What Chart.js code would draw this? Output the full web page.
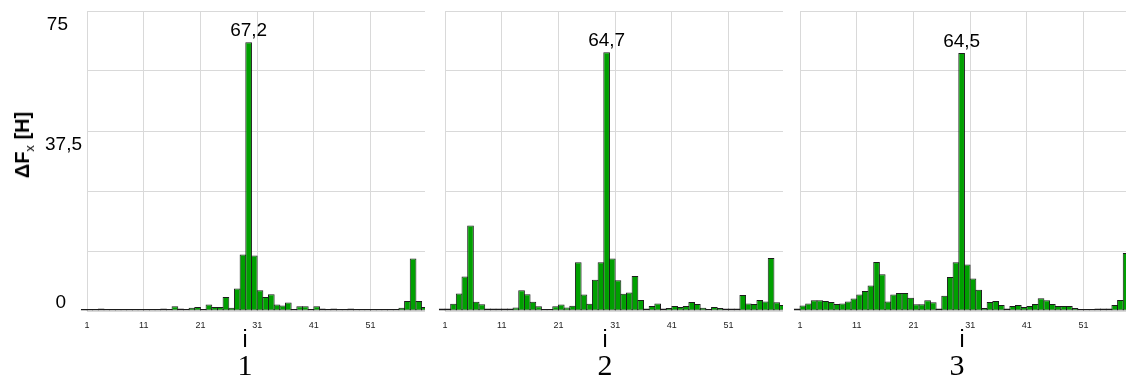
<!DOCTYPE html>
<html>
<head>
<meta charset="utf-8">
<script src="https://cdn.jsdelivr.net/npm/chart.js@4.4.0/dist/chart.umd.min.js"></script>
<style>
body{margin:0;background:#fff;}
#wrap{position:relative;width:1126px;height:381px;overflow:hidden;background:#fff;font-family:"Liberation Sans",Arial,sans-serif;color:#000;}
#wrap canvas{position:absolute;top:0;}
.ilab{position:absolute;top:328px;width:60px;text-align:center;font-size:23px;line-height:23px;}
.num{position:absolute;top:350px;width:60px;text-align:center;font-family:"Liberation Serif","Times New Roman",serif;font-size:30px;line-height:30px;}
#ytitle{position:absolute;left:24px;top:145px;transform:translate(-50%,-50%) rotate(-90deg);font-size:20px;font-weight:bold;white-space:nowrap;}
#ytitle sub{font-size:13px;font-weight:normal;}
</style>
</head>
<body>
<div id="wrap">
	<canvas id="c1" width="440" height="381" style="left:0px"></canvas>
	<canvas id="c2" width="370" height="381" style="left:430px"></canvas>
	<canvas id="c3" width="370" height="381" style="left:785px"></canvas>
	<div id="ytitle">ΔF<sub>x</sub> [H]</div>
	<div class="ilab" style="left:215px">i</div>
	<div class="ilab" style="left:575px">i</div>
	<div class="ilab" style="left:932px">i</div>
	<div class="num" style="left:215px">1</div>
	<div class="num" style="left:575px">2</div>
	<div class="num" style="left:927px">3</div>
</div>
<script>
// номера гармоник i, подписи оси
const xTicks = [1, 11, 21, 31, 41, 51];
const yLabels = [75, 37.5, 0];

// ΔFx по гармоникам, три варианта
const values1 = [0.5, 0.1, 0.2, 0.6, 0.2, 0.2, 0.2, 0.1, 0.3, 0.5,
	0.2, 0.5, 0.3, 0.3, 0.6, 0.5, 1.2, 0.6, 0.2, 0.8,
	1.0, 0.3, 1.6, 1.0, 1.0, 3.5, 0.8, 5.6, 14.1, 67.2,
	13.9, 5.2, 3.5, 4.2, 1.6, 1.4, 2.1, 0.2, 1.2, 1.2,
	0.1, 1.2, 0.6, 0.2, 0.6, 0.3, 0.3, 0.6, 0.2, 0.3,
	0.3, 0.2, 0.3, 0.3, 0.3, 0.3, 0.8, 2.5, 13.1, 2.5, 1.0];
const values2 = [0.6, 0.6, 1.8, 4.4, 8.6, 21.4, 2.3, 1.7, 0.6, 0.6,
	0.6, 0.6, 0.6, 0.9, 5.2, 4.2, 2.3, 1.2, 0.1, 0.2,
	1.2, 1.6, 0.9, 1.3, 12.2, 4.1, 1.8, 7.8, 12.2, 64.7,
	13.1, 7.7, 4.3, 4.6, 8.75, 2.75, 0.6, 1.25, 1.9, 0.6,
	0.75, 1.25, 1.0, 1.25, 2.25, 1.75, 0.8, 0.3, 1.0, 0.75,
	0.6, 0.6, 0.6, 4.0, 1.9, 1.75, 2.75, 2.4, 13.25, 2.2, 1.5];
const values3 = [0.6, 1.4, 1.9, 2.7, 2.7, 2.5, 2.25, 1.75, 1.9, 2.4,
	3.1, 4.1, 5.0, 6.4, 12.25, 9.2, 2.4, 4.1, 4.5, 4.5,
	3.3, 1.7, 1.7, 2.7, 2.2, 0.6, 3.8, 8.5, 12.2, 64.5,
	11.6, 8.1, 5.3, 0.75, 2.25, 2.5, 1.5, 0.6, 1.25, 1.5,
	1.0, 1.25, 1.75, 3.2, 2.7, 1.75, 1.25, 1.25, 1.25, 0.75,
	0.4, 0.25, 0.25, 0.6, 0.6, 0.6, 1.5, 2.75, 14.5];

const FONT = '"Liberation Sans", Arial, sans-serif';
const GRID = '#d9d9d9';
const fmt = v => String(v).replace('.', ',');

/** подпись над максимальным столбцом */
const peakLabel = {
	id: 'peakLabel',
	afterDatasetsDraw(chart){
		const data = chart.data.datasets[0].data;
		let k = 0;
		data.forEach((p, i) => { if(p.y > data[k].y) k = i; });
		const bar = chart.getDatasetMeta(0).data[k];
		const ctx = chart.ctx;
		ctx.save();
		ctx.font = '19px ' + FONT;
		ctx.fillStyle = '#000';
		ctx.textAlign = 'center';
		ctx.textBaseline = 'middle';
		ctx.fillText(fmt(data[k].y), bar.x, bar.y - 11);
		ctx.restore();
	}
};

/** подписи оси Y только у первого графика */
const yLabelX = [68, 82, 66];
const yLabelDy = [14, -16, -8];
const yAxisLabels = {
	id: 'yAxisLabels',
	afterDraw(chart){
		const ctx = chart.ctx;
		const ys = chart.scales.y;
		ctx.save();
		ctx.font = '19px ' + FONT;
		ctx.fillStyle = '#000';
		ctx.textAlign = 'right';
		ctx.textBaseline = 'middle';
		yLabels.forEach((v, i) => {
			ctx.fillText(fmt(v), yLabelX[i], ys.getPixelForValue(v) + yLabelDy[i]);
		});
		ctx.restore();
	}
};

function renderPanel(canvasEl, values, padLeft, padRight, withY){
	const ctx = canvasEl.getContext('2d');
	return new Chart(ctx, {
		type: 'bar',
		data: {
			datasets: [{
				data: values.map((v, i) => ({ x: i + 1, y: v })),
				backgroundColor: '#00a000',
				borderColor: '#1c1c1c',
				borderWidth: 1,
				borderSkipped: false,
				minBarLength: 2,
				barPercentage: 1.176,
				categoryPercentage: 1,
				clip: { left: false, top: false, right: 0, bottom: 0 }
			}]
		},
		options: {
			responsive: false,
			animation: false,
			layout: { padding: { left: padLeft, right: padRight, top: 11, bottom: 50 } },
			plugins: { legend: { display: false }, tooltip: { enabled: false } },
			scales: {
				x: {
					type: 'linear',
					min: 1.5,
					max: 61.1,
					offset: false,
					afterBuildTicks: s => { s.ticks = xTicks.map(v => ({ value: v + 0.5 })); },
					afterFit: s => { s.height = 20; },
					ticks: {
						callback: v => String(v - 0.5),
						font: { size: 9, family: FONT },
						color: '#222',
						padding: 9,
						maxRotation: 0,
						autoSkip: false
					},
					grid: { color: GRID, drawTicks: false, offset: false },
					border: { display: false }
				},
				y: {
					min: 0,
					max: 75,
					ticks: { display: false, stepSize: 15 },
					grid: { color: GRID, drawTicks: false },
					border: { display: false }
				}
			}
		},
		plugins: withY ? [peakLabel, yAxisLabels] : [peakLabel]
	});
}

renderPanel(document.getElementById('c1'), values1, 87, 15, true);
renderPanel(document.getElementById('c2'), values2, 15, 17, false);
renderPanel(document.getElementById('c3'), values3, 15, 17, false);
</script>
</body>
</html>
